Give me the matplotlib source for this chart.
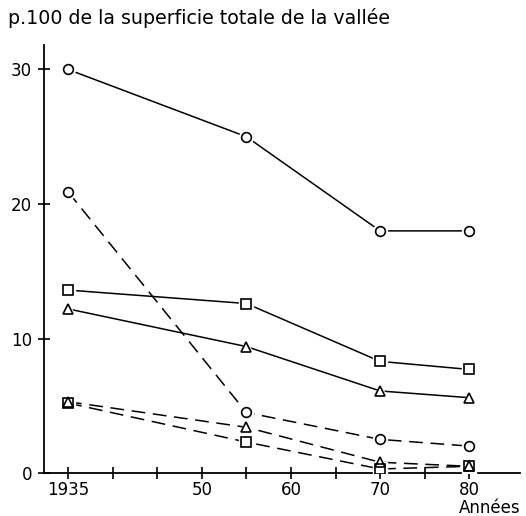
import matplotlib
matplotlib.use("Agg")
import matplotlib.pyplot as plt

# years sampled and the share of the valley (p.100) for each series
years = [1935, 1955, 1970, 1980]
solid_circle = [30.0, 25.0, 18.0, 18.0]
solid_square = [13.6, 12.6, 8.3, 7.7]
solid_triangle = [12.2, 9.4, 6.1, 5.6]
dash_circle = [20.9, 4.5, 2.5, 2.0]
dash_triangle = [5.3, 3.4, 0.8, 0.5]
dash_square = [5.2, 2.3, 0.3, 0.5]

major_ticks = [1935, 1950, 1960, 1970, 1980]
major_labels = ["1935", "50", "60", "70", "80"]
minor_ticks = [1940, 1945, 1955, 1965, 1975]
y_ticks = [0, 10, 20, 30]

plt.rcParams['font.family'] = ['DejaVu Sans']

fig = plt.figure(figsize=(5.26, 5.16), dpi=100)
ax = fig.add_axes([0.0837, 0.0833, 0.905, 0.829])

dash = (0, (9, 5))
series = [
    (solid_circle, "o", "-"),
    (solid_square, "s", "-"),
    (solid_triangle, "^", "-"),
    (dash_circle, "o", dash),
    (dash_triangle, "^", dash),
    (dash_square, "s", dash),
]

for vals, mk, ls in series:
    ax.plot(years, vals, color="black", linestyle=ls, linewidth=1.1, zorder=2)
for vals, mk, ls in series:
    # white halo so the lines stop short of the markers
    ax.plot(years, vals, linestyle="none", marker=mk, markersize=10,
            markerfacecolor="white", markeredgecolor="white", zorder=3)
for vals, mk, ls in series:
    ax.plot(years, vals, linestyle="none", marker=mk, markersize=7,
            markerfacecolor="none", markeredgecolor="black",
            markeredgewidth=1.2, zorder=4)

ax.set_xlim(1932.3, 1985.7)
ax.set_ylim(0, 31.8)

ax.spines['top'].set_visible(False)
ax.spines['right'].set_visible(False)
ax.spines['left'].set_linewidth(1.3)
ax.spines['bottom'].set_linewidth(1.3)

ax.set_xticks(major_ticks)
ax.set_xticklabels(major_labels)
ax.set_xticks(minor_ticks, minor=True)
ax.set_yticks(y_ticks)
ax.set_yticklabels([str(v) for v in y_ticks])
ax.tick_params(axis="both", which="both", direction="inout", length=9,
               width=1.2, labelsize=12, pad=1)
ax.tick_params(axis="y", pad=4)

fig.text(0.015, 0.965, "p.100 de la superficie totale de la vallée",
         fontsize=13.7, ha="left", va="center")
fig.text(0.99, 0.005, "Années", fontsize=12, ha="right", va="baseline")

fig.savefig("out.png", dpi=100)
